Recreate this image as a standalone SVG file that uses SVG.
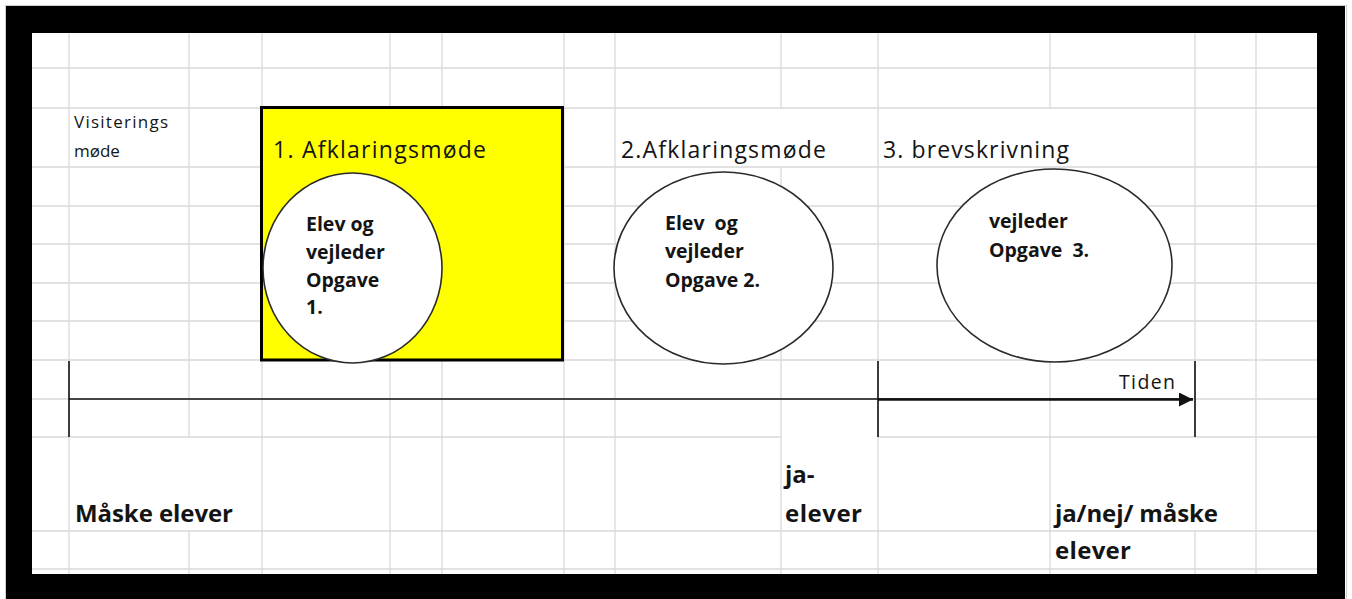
<svg xmlns="http://www.w3.org/2000/svg" width="1352" height="599" viewBox="0 0 1352 599">
  <style>
    .grid { stroke: #d9d9d9; stroke-width: 1.3; fill: none; }
    .bubble { fill: #ffffff; stroke: #2a2a2a; stroke-width: 1.6; }
    .t { font-family: "Open Sans", "Liberation Sans", sans-serif; fill: #141414; }
    .title { font-size: 23px; }
    .small { font-size: 17px; }
    .inner { font-size: 19.5px; font-weight: bold; white-space: pre; }
    .big { font-size: 24px; font-weight: bold; }
    .axis { stroke: #111; stroke-width: 1.6; fill: none; }
  </style>
  <defs>
    <marker id="arrow" viewBox="0 0 14 14" refX="14" refY="7" markerWidth="14" markerHeight="14" markerUnits="userSpaceOnUse" orient="auto">
      <path d="M0,0 L14,7 L0,14 z" fill="#111"/>
    </marker>
  </defs>

  <!-- frame -->
  <rect x="5.5" y="5.5" width="1341" height="600" fill="none" stroke="#cfcfcf" stroke-width="1"/>
  <rect x="6" y="6" width="1339" height="593" fill="#000"/>
  <rect x="32" y="33" width="1285" height="541" fill="#fff"/>

  <!-- spreadsheet grid -->
  <path class="grid" d="
    M32,68 H1317 M32,108 H1317 M32,167 H1317 M32,206 H1317 M32,244 H1317
    M32,283 H1317 M32,321 H1317 M32,360 H1317 M32,399 H1317
    M32,437 H781 M878,437 H1317 M32,531 H1317 M32,569 H1317
    M69,33 V574 M189,33 V437 M189,531 V574 M262,33 V574 M390,33 V574 M442,33 V574
    M564,33 V574 M615,33 V574 M781,33 V108 M781,167 V574 M878,33 V574
    M1050,33 V108 M1050,167 V574 M1195,33 V437 M1195,531 V574 M1256,33 V574"/>

  <g id="visitering">
    <text class="t small" x="74" y="128" textLength="94" lengthAdjust="spacing">Visiterings</text>
    <text class="t small" x="74" y="157">møde</text>
  </g>

  <g id="afklaring1">
    <rect x="261.5" y="107.5" width="301" height="252.5" fill="#ffff00" stroke="#000" stroke-width="3"/>
    <text class="t title" x="273" y="158" textLength="213" lengthAdjust="spacing">1. Afklaringsmøde</text>
    <ellipse class="bubble" cx="352.5" cy="268" rx="89.5" ry="95"/>
    <text class="t inner" x="306" y="231">Elev og</text>
    <text class="t inner" x="306" y="259">vejleder</text>
    <text class="t inner" x="306" y="287">Opgave</text>
    <text class="t inner" x="306" y="314">1.</text>
  </g>

  <g id="afklaring2">
    <text class="t title" x="621" y="158" textLength="205" lengthAdjust="spacing">2.Afklaringsmøde</text>
    <ellipse class="bubble" cx="723.5" cy="268" rx="109.5" ry="96"/>
    <text class="t inner" x="665" y="230">Elev  og</text>
    <text class="t inner" x="665" y="258">vejleder</text>
    <text class="t inner" x="665" y="287">Opgave 2.</text>
  </g>

  <g id="brevskrivning">
    <text class="t title" x="883" y="158" textLength="186" lengthAdjust="spacing">3. brevskrivning</text>
    <ellipse class="bubble" cx="1054.5" cy="265.5" rx="117.5" ry="96.5"/>
    <text class="t inner" x="989" y="228">vejleder</text>
    <text class="t inner" x="989" y="257">Opgave  3.</text>
  </g>

  <g id="connectors">
    <line class="axis" x1="69" y1="399" x2="1193" y2="399"/>
    <line x1="878" y1="399.5" x2="1193" y2="399.5" stroke="#111" stroke-width="2.6" marker-end="url(#arrow)"/>
    <line class="axis" x1="69" y1="361" x2="69" y2="437"/>
    <line class="axis" x1="878" y1="361" x2="878" y2="437"/>
    <line class="axis" x1="1195" y1="361" x2="1195" y2="437"/>
  </g>

  <g id="tiden">
    <text class="t" font-size="19.5" x="1119" y="389" textLength="56" lengthAdjust="spacing">Tiden</text>
  </g>

  <g id="maaske">
    <text class="t big" x="75" y="522" textLength="158" lengthAdjust="spacing">Måske elever</text>
  </g>

  <g id="ja-elever">
    <text class="t big" x="785" y="483">ja-</text>
    <text class="t big" x="785" y="522" textLength="77" lengthAdjust="spacing">elever</text>
  </g>

  <g id="janej">
    <text class="t big" x="1055" y="522" textLength="163" lengthAdjust="spacing">ja/nej/ måske</text>
    <text class="t big" x="1055" y="559" textLength="76" lengthAdjust="spacing">elever</text>
  </g>
</svg>
